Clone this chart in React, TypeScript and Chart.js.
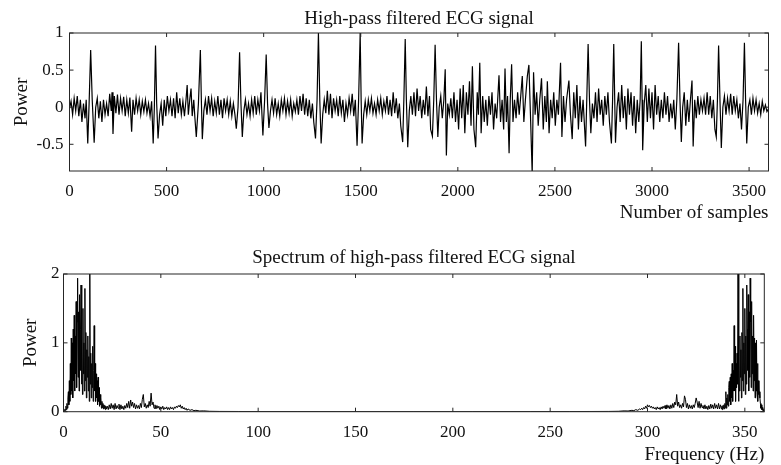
import React, { useEffect, useRef } from "react";
import { Chart, registerables } from "chart.js";

Chart.register(...registerables);

const FONT = "'Liberation Serif', 'Times New Roman', serif";
const TEXT = "#111";

// ---------- Top panel: high-pass filtered ECG ----------
const ecgTitle = "High-pass filtered ECG signal";
const ecgXLabel = "Number of samples";
const ecgYLabel = "Power";
const ecgXTicks = [0, 500, 1000, 1500, 2000, 2500, 3000, 3500];
const ecgYTicks = [-0.5, 0, 0.5, 1];

const ecgSamples = [
  0, 8, 16, 24, 32, 40, 48, 56, 64, 72,
  80, 86, 94, 101, 109, 117, 127, 135, 143, 151,
  159, 167, 175, 183, 191, 199, 207, 215, 219, 224,
  231, 239, 247, 255, 263, 271, 279, 287, 295, 303,
  311, 320, 327, 335, 343, 351, 359, 367, 375, 383,
  391, 399, 407, 415, 423, 431, 437, 443, 449, 456,
  464, 472, 480, 488, 496, 504, 512, 520, 528, 536,
  544, 552, 560, 568, 576, 584, 592, 600, 606, 612,
  620, 626, 632, 640, 646, 653, 664, 674, 679, 684,
  692, 700, 708, 716, 724, 732, 740, 748, 756, 764,
  772, 780, 788, 796, 804, 812, 820, 828, 836, 844,
  852, 859, 868, 876, 883, 890, 898, 906, 914, 922,
  930, 938, 946, 954, 962, 970, 978, 986, 996, 1005,
  1013, 1020, 1027, 1035, 1043, 1051, 1059, 1067, 1075, 1083,
  1091, 1099, 1107, 1115, 1123, 1131, 1139, 1147, 1155, 1163,
  1171, 1179, 1187, 1195, 1203, 1211, 1219, 1227, 1235, 1243,
  1251, 1258, 1267, 1275, 1282, 1289, 1296, 1304, 1312, 1320,
  1328, 1336, 1344, 1352, 1360, 1368, 1376, 1384, 1392, 1400,
  1408, 1416, 1424, 1432, 1440, 1448, 1456, 1464, 1472, 1481,
  1489, 1497, 1502, 1507, 1515, 1523, 1531, 1539, 1547, 1555,
  1563, 1571, 1579, 1587, 1595, 1603, 1611, 1619, 1627, 1635,
  1643, 1651, 1659, 1667, 1675, 1683, 1691, 1699, 1706, 1716,
  1722, 1729, 1735, 1742, 1750, 1758, 1766, 1774, 1782, 1790,
  1798, 1806, 1814, 1822, 1830, 1838, 1846, 1854, 1860, 1869,
  1876, 1883, 1890, 1897, 1904, 1912, 1920, 1928, 1935, 1941,
  1948, 1956, 1964, 1972, 1980, 1988, 1996, 2004, 2012, 2020,
  2028, 2036, 2044, 2052, 2060, 2068, 2075, 2083, 2092, 2100,
  2106, 2113, 2120, 2128, 2136, 2144, 2152, 2160, 2168, 2176,
  2184, 2192, 2200, 2212, 2220, 2228, 2236, 2243, 2250, 2256,
  2264, 2270, 2277, 2284, 2292, 2300, 2308, 2316, 2324, 2332,
  2340, 2348, 2358, 2366, 2374, 2383, 2390, 2398, 2406, 2414,
  2422, 2431, 2440, 2448, 2456, 2461, 2470, 2478, 2486, 2494,
  2502, 2510, 2518, 2529, 2536, 2544, 2552, 2560, 2572, 2580,
  2589, 2597, 2605, 2613, 2621, 2629, 2637, 2645, 2658, 2664,
  2671, 2678, 2685, 2693, 2701, 2709, 2717, 2725, 2733, 2741,
  2749, 2757, 2765, 2773, 2781, 2791, 2797, 2803, 2808, 2812,
  2820, 2828, 2836, 2844, 2852, 2860, 2868, 2876, 2884, 2892,
  2900, 2908, 2916, 2924, 2932, 2939, 2945, 2949, 2952, 2960,
  2968, 2976, 2984, 2992, 3000, 3008, 3016, 3024, 3032, 3040,
  3048, 3056, 3064, 3072, 3080, 3088, 3096, 3104, 3112, 3120,
  3128, 3137, 3144, 3151, 3158, 3166, 3174, 3182, 3190, 3198,
  3206, 3212, 3220, 3228, 3236, 3244, 3252, 3260, 3268, 3276,
  3284, 3292, 3300, 3308, 3316, 3324, 3331, 3337, 3343, 3350,
  3357, 3365, 3373, 3381, 3389, 3397, 3405, 3413, 3421, 3429,
  3437, 3445, 3453, 3461, 3469, 3476, 3482, 3488, 3496, 3504,
  3512, 3520, 3528, 3536, 3544, 3552, 3560, 3568, 3576, 3584,
  3592, 3600,
];

const ecgPower = [
  -0.02, 0.08, -0.1, 0.12, -0.05, 0.15, -0.12, 0.1, -0.2, 0.05,
  -0.15, 0.1, -0.49, 0.05, 0.77, 0.1, -0.48, 0, 0.12, -0.15,
  0.08, -0.2, 0.1, -0.1, 0.05, -0.12, 0.18, -0.05, 0.2, -0.36,
  0.15, -0.08, 0.17, -0.1, 0.12, -0.05, 0.14, -0.12, 0.1, -0.08,
  0.13, -0.33, 0.1, -0.1, 0.12, -0.05, 0.1, -0.1, 0.08, -0.06,
  0.1, -0.08, 0.05, -0.12, 0.08, -0.49, 0, 0.83, 0.05, -0.42,
  -0.1, 0.05, -0.25, 0.1, -0.12, 0.15, -0.05, 0.1, -0.12, 0.12,
  -0.15, 0.2, -0.08, 0.12, -0.1, 0.08, -0.12, 0.1, 0.3, -0.1,
  0.12, 0.25, -0.12, 0.1, -0.15, -0.4, 0.05, 0.77, 0.1, -0.43,
  -0.05, 0.1, -0.1, 0.15, -0.05, 0.12, -0.12, 0.08, -0.08, 0.15,
  -0.1, 0.1, -0.15, 0.12, -0.05, 0.1, -0.1, 0.08, -0.12, 0.05,
  -0.1, -0.29, 0, 0.74, 0.05, -0.4, -0.05, 0.1, -0.1, 0.05,
  -0.12, 0.1, -0.08, 0.15, -0.1, 0.1, -0.05, 0.2, -0.38, 0.1,
  0.71, 0.05, -0.28, -0.05, 0.1, -0.08, 0.12, -0.1, 0.05, -0.12,
  0.1, -0.05, 0.12, -0.1, 0.08, -0.08, 0.1, -0.12, 0.05, -0.06,
  0.1, -0.1, 0.15, -0.05, 0.18, -0.1, 0.12, -0.12, 0.1, -0.15,
  0.05, -0.2, -0.42, 0.1, 1, 0.1, -0.49, -0.1, 0.1, -0.08,
  0.22, -0.1, 0.18, -0.15, 0.12, -0.05, 0.1, -0.12, 0.15, -0.08,
  0.1, -0.2, 0.05, -0.1, 0.12, -0.05, 0.18, -0.12, 0.1, -0.52,
  0.1, 1, 0.1, -0.49, -0.1, 0.08, -0.1, 0.1, -0.05, 0.12,
  -0.08, 0.05, -0.1, 0.1, -0.05, 0.12, -0.1, 0.08, -0.05, 0.15,
  -0.1, 0.1, -0.12, 0.2, -0.08, 0.12, -0.15, 0.05, -0.25, -0.47,
  0.1, 0.92, 0.1, -0.54, -0.05, 0.15, -0.1, 0.2, -0.12, 0.25,
  -0.05, 0.15, -0.15, 0.1, -0.1, 0.28, -0.12, 0.15, -0.3, -0.39,
  0.1, 0.84, 0.1, -0.4, 0, 0.15, -0.15, 0.1, 0.51, -0.65,
  0.05, -0.1, 0.12, -0.15, 0.2, -0.2, 0.1, -0.3, 0.25, -0.15,
  0.3, -0.35, 0.2, -0.1, 0.35, -0.25, 0.55, -0.3, -0.54, 0.2,
  -0.1, 0.6, -0.35, 0.15, -0.2, 0.1, -0.25, 0.15, -0.1, 0.2,
  -0.3, 0.05, -0.15, 0.43, -0.2, 0.1, -0.3, 0.52, -0.2, 0.15,
  -0.62, 0.1, 0.58, -0.2, 0.1, -0.15, 0.2, -0.1, 0.15, 0.42,
  -0.2, 0.1, 0.42, 0.57, -0.1, -0.9, 0.47, -0.1, 0.2, -0.25,
  0.1, 0.39, -0.3, 0.15, -0.2, 0.35, -0.35, 0.1, -0.15, 0.2,
  -0.25, 0.1, -0.1, 0.6, -0.4, 0.15, -0.2, 0.1, 0.36, -0.1,
  -0.43, 0.2, -0.15, 0.3, -0.3, 0.15, -0.2, 0.1, -0.53, 0.1,
  0.85, 0.1, -0.35, 0.05, -0.15, 0.2, -0.2, 0.25, -0.1, 0.1,
  -0.25, 0.15, -0.1, 0.2, -0.2, -0.49, 0.1, 0.85, 0.1, -0.48,
  0, 0.2, -0.2, 0.3, -0.15, 0.15, -0.3, 0.25, -0.1, 0.2,
  -0.25, 0.15, -0.35, 0.1, -0.2, 0.1, 0.89, 0.1, -0.58, 0.05,
  0.3, -0.2, 0.25, -0.15, 0.2, -0.3, 0.3, -0.1, 0.15, -0.2,
  0.1, -0.15, 0.2, -0.1, 0.15, -0.2, 0.05, -0.15, 0.1, -0.3,
  0.1, 0.87, 0.1, -0.47, 0, 0.2, -0.25, 0.1, -0.2, 0.1,
  0.36, -0.53, 0.1, -0.15, 0.15, -0.1, 0.1, -0.05, 0.12, -0.1,
  0.2, -0.1, 0.15, -0.15, 0.1, -0.3, -0.4, 0.1, 0.83, 0.1,
  -0.55, 0, 0.15, -0.1, 0.12, -0.05, 0.18, -0.1, 0.15, -0.05,
  0.1, -0.15, 0.05, -0.3, 0.1, 0.87, 0.1, -0.49, 0, 0.1,
  -0.1, 0.12, -0.05, 0.1, -0.08, 0.05, -0.1, 0.08, -0.05, 0.03,
  -0.06, -0.02,
];

// ---------- Bottom panel: spectrum ----------
const specTitle = "Spectrum of high-pass filtered ECG signal";
const specXLabel = "Frequency (Hz)";
const specYLabel = "Power";
const specXTicks = [0, 50, 100, 150, 200, 250, 300, 350];
const specYTicks = [0, 1, 2];

const specFreq = [
  0, 0.25, 0.5, 0.75, 1, 1.25, 1.5, 1.75, 2, 2.25,
  2.5, 2.75, 3, 3.25, 3.5, 3.75, 4, 4.25, 4.5, 4.75,
  5, 5.25, 5.5, 5.75, 6, 6.25, 6.5, 6.75, 7, 7.25,
  7.5, 7.75, 8, 8.25, 8.5, 8.75, 9, 9.25, 9.5, 9.75,
  10, 10.25, 10.5, 10.75, 11, 11.25, 11.5, 11.75, 12, 12.25,
  12.5, 12.75, 13, 13.25, 13.5, 13.75, 14, 14.25, 14.5, 14.75,
  15, 15.25, 15.5, 15.75, 16, 16.25, 16.5, 16.75, 17, 17.25,
  17.5, 17.75, 18, 18.25, 18.5, 18.75, 19, 19.25, 19.5, 19.75,
  20, 20.25, 20.5, 20.75, 21, 21.25, 21.5, 21.75, 22,
  22.5, 23, 23.5, 24, 24.5, 25, 25.5, 26, 26.5, 27,
  27.5, 28, 28.5, 29, 29.5, 30, 30.5, 31, 31.5, 32,
  32.5, 33, 33.5, 34, 34.5, 35, 35.5, 36, 36.5, 37,
  37.5, 38, 38.5, 39, 39.5, 40, 40.5, 41, 41.5, 42,
  42.5, 43, 43.5, 44, 44.5, 45, 45.5, 46, 46.5, 47,
  47.5, 48, 48.5, 49, 49.5, 50, 50.5, 51, 51.5, 52,
  52.5, 53, 53.5, 54, 54.5, 55, 55.5, 56, 56.5, 57,
  57.5, 58, 58.5, 59, 59.5, 60, 60.5, 61, 61.5, 62,
  62.5, 63, 63.5, 64, 65, 66, 67, 68, 70, 72,
  75, 80, 90, 100, 120, 150, 180, 210, 240, 260,
  270, 280, 285, 288, 290, 292, 293, 294, 295, 296,
  296.5, 297, 297.5, 298, 298.5, 299, 299.5, 300, 300.5, 301,
  301.5, 302, 302.5, 303, 303.5, 304, 304.5, 305, 305.5, 306,
  306.5, 307, 307.5, 308, 308.5, 309, 309.5, 310, 310.5, 311,
  311.5, 312, 312.5, 313, 313.5, 314, 314.5, 315, 315.5, 316,
  316.5, 317, 317.5, 318, 318.5, 319, 319.5, 320, 320.5, 321,
  321.5, 322, 322.5, 323, 323.5, 324, 324.5, 325, 325.5, 326,
  326.5, 327, 327.5, 328, 328.5, 329, 329.5, 330, 330.5, 331,
  331.5, 332, 332.5, 333, 333.5, 334, 334.5, 335, 335.5, 336,
  336.5, 337, 337.5, 338, 338.25, 338.5, 338.75, 339, 339.25, 339.5,
  339.75, 340, 340.25, 340.5, 340.75, 341, 341.25, 341.5, 341.75, 342,
  342.25, 342.5, 342.75, 343, 343.25, 343.5, 343.75, 344, 344.25, 344.5,
  344.75, 345, 345.25, 345.5, 345.75, 346, 346.25, 346.5, 346.75, 347,
  347.25, 347.5, 347.75, 348, 348.25, 348.5, 348.75, 349, 349.25, 349.5,
  349.75, 350, 350.25, 350.5, 350.75, 351, 351.25, 351.5, 351.75, 352,
  352.25, 352.5, 352.75, 353, 353.25, 353.5, 353.75, 354, 354.25, 354.5,
  354.75, 355, 355.25, 355.5, 355.75, 356, 356.25, 356.5, 356.75, 357,
  357.25, 357.5, 357.75, 358, 358.25, 358.5, 358.75, 359, 359.25, 359.5,
  359.75, 360,
];

const specPower = [
  0.01, 0.02, 0.01, 0.04, 0.02, 0.08, 0.03, 0.12, 0.05, 0.2,
  0.29, 0.1, 0.45, 0.15, 0.7, 0.25, 1.07, 0.3, 1.0, 0.2,
  1.2, 0.45, 1.4, 0.3, 1.1, 0.55, 1.6, 0.35, 1.3, 1.94,
  0.5, 1.45, 0.3, 1.7, 0.6, 1.2, 1.84, 0.4, 1.1, 0.25,
  1.5, 0.55, 1.0, 0.3, 1.79, 0.45, 1.15, 0.2, 0.9, 0.5,
  1.1, 0.3, 0.8, 0.15, 2.3, 0.4, 0.85, 0.2, 0.7, 0.35,
  0.95, 0.15, 0.6, 1.25, 0.3, 0.7, 0.15, 0.55, 0.2, 0.45,
  0.1, 0.5, 0.15, 0.35, 0.08, 0.25, 0.1, 0.2, 0.05, 0.15,
  0.06, 0.12, 0.04, 0.1, 0.05, 0.09, 0.03, 0.08, 0.04,
  0.08, 0.03, 0.1, 0.04, 0.12, 0.05, 0.1, 0.03, 0.12, 0.04,
  0.09, 0.05, 0.11, 0.03, 0.1, 0.04, 0.08, 0.03, 0.09, 0.05,
  0.12, 0.06, 0.15, 0.05, 0.17, 0.08, 0.14, 0.06, 0.12, 0.04,
  0.1, 0.05, 0.09, 0.04, 0.12, 0.06, 0.18, 0.25, 0.07, 0.12,
  0.05, 0.1, 0.06, 0.15, 0.08, 0.27, 0.1, 0.14, 0.05, 0.1,
  0.04, 0.09, 0.05, 0.08, 0.03, 0.07, 0.04, 0.08, 0.03, 0.06,
  0.04, 0.07, 0.03, 0.06, 0.03, 0.07, 0.04, 0.06, 0.03, 0.07,
  0.05, 0.08, 0.06, 0.09, 0.07, 0.1, 0.05, 0.08, 0.04, 0.06,
  0.03, 0.05, 0.02, 0.04, 0.02, 0.03, 0.015, 0.02, 0.01, 0.012,
  0.006, 0.004, 0.003, 0.002, 0.002, 0.001, 0.001, 0.001, 0.002, 0.002,
  0.003, 0.004, 0.006, 0.012, 0.01, 0.02, 0.015, 0.03, 0.02, 0.04,
  0.03, 0.05, 0.03, 0.06, 0.04, 0.08, 0.05, 0.1, 0.07, 0.09,
  0.06, 0.08, 0.05, 0.07, 0.04, 0.06, 0.03, 0.07, 0.04, 0.06,
  0.03, 0.07, 0.04, 0.08, 0.05, 0.09, 0.04, 0.1, 0.05, 0.09,
  0.04, 0.1, 0.05, 0.12, 0.06, 0.14, 0.1, 0.25, 0.08, 0.14,
  0.06, 0.1, 0.05, 0.12, 0.07, 0.23, 0.18, 0.06, 0.12, 0.04,
  0.1, 0.05, 0.09, 0.04, 0.1, 0.06, 0.12, 0.2, 0.14, 0.06,
  0.15, 0.05, 0.12, 0.06, 0.09, 0.04, 0.1, 0.04, 0.08, 0.03,
  0.09, 0.04, 0.11, 0.05, 0.1, 0.04, 0.12, 0.05, 0.1, 0.04,
  0.12, 0.04, 0.1, 0.04, 0.08, 0.03, 0.09, 0.05, 0.1, 0.04,
  0.12, 0.06, 0.29, 0.05, 0.2, 0.1, 0.25, 0.08, 0.35, 0.44,
  0.15, 0.5, 0.1, 0.55, 0.2, 0.7, 0.15, 0.6, 0.3, 1.25,
  0.3, 0.95, 0.15, 0.7, 0.35, 0.85, 0.4, 2.3, 0.15, 0.8,
  0.3, 1.1, 0.5, 0.9, 0.2, 1.15, 0.45, 1.79, 0.3, 1.0,
  0.55, 1.5, 0.25, 1.1, 0.4, 1.84, 1.2, 0.6, 1.7, 0.3,
  1.45, 0.5, 1.94, 1.3, 0.35, 1.6, 0.55, 1.1, 0.3, 1.4,
  0.45, 1.07, 0.2, 1.0, 0.3, 1.04, 0.25, 0.7, 0.15, 0.45,
  0.25, 0.29, 0.2, 0.12, 0.05, 0.1, 0.03, 0.06, 0.02, 0.03,
  0.01, 0.01,
];

// Draws the MATLAB-style box and inward tick marks on all four sides.
const boxPlugin = {
  id: "matlabBox",
  afterDatasetsDraw(chart: any) {
    const { ctx, chartArea: a, scales } = chart;
    const tl = 4;
    ctx.save();
    ctx.strokeStyle = "#262626";
    ctx.lineWidth = 1;
    ctx.strokeRect(a.left, a.top, a.right - a.left, a.bottom - a.top);
    ctx.beginPath();
    scales.x.ticks.forEach((t: any) => {
      const p = scales.x.getPixelForValue(t.value);
      ctx.moveTo(p, a.bottom);
      ctx.lineTo(p, a.bottom - tl);
      ctx.moveTo(p, a.top);
      ctx.lineTo(p, a.top + tl);
    });
    scales.y.ticks.forEach((t: any) => {
      const p = scales.y.getPixelForValue(t.value);
      ctx.moveTo(a.left, p);
      ctx.lineTo(a.left + tl, p);
      ctx.moveTo(a.right, p);
      ctx.lineTo(a.right - tl, p);
    });
    ctx.stroke();
    ctx.restore();
  },
};

type PanelCfg = {
  xs: number[];
  ys: number[];
  lineWidth: number;
  title: string;
  xLabel: string;
  yLabel: string;
  xTicks: number[];
  yTicks: number[];
  xMin: number;
  xMax: number;
  yMin: number;
  yMax: number;
  padRight: number;
  titlePad: { top: number; bottom: number };
  xAxisHeight: number;
  xTickPad: number;
  xTitlePadBottom: number;
  yAxisWidth: number;
  yTickPad: number;
  yTitlePadTop: number;
};

function makeConfig(p: PanelCfg): any {
  const tickFont = { family: FONT, size: 17, weight: "normal" as const };
  const labelFont = { family: FONT, size: 19, weight: "normal" as const };
  const points = p.xs.map((x, i) => ({ x, y: p.ys[i] }));
  return {
    type: "line",
    data: {
      datasets: [
        {
          data: points,
          borderColor: "#000",
          borderWidth: p.lineWidth,
          pointRadius: 0,
          tension: 0,
          fill: false,
          clip: 0,
        },
      ],
    },
    options: {
      animation: false,
      responsive: false,
      events: [],
      layout: { padding: { left: 0, right: p.padRight, top: 0, bottom: 0 } },
      plugins: {
        legend: { display: false },
        tooltip: { enabled: false },
        title: {
          display: true,
          text: p.title,
          fullSize: false,
          font: labelFont,
          color: TEXT,
          padding: p.titlePad,
        },
      },
      scales: {
        x: {
          type: "linear",
          min: p.xMin,
          max: p.xMax,
          afterBuildTicks: (s: any) => {
            s.ticks = p.xTicks.map((v) => ({ value: v }));
          },
          afterFit: (s: any) => {
            s.height = p.xAxisHeight;
          },
          grid: { display: false, drawTicks: false },
          border: { display: false },
          ticks: {
            font: tickFont,
            color: TEXT,
            padding: p.xTickPad,
            maxRotation: 0,
            autoSkip: false,
            callback: (v: any) => String(v),
          },
          title: {
            display: true,
            text: p.xLabel,
            align: "end",
            font: labelFont,
            color: TEXT,
            padding: { top: 0, bottom: p.xTitlePadBottom },
          },
        },
        y: {
          type: "linear",
          min: p.yMin,
          max: p.yMax,
          afterBuildTicks: (s: any) => {
            s.ticks = p.yTicks.map((v) => ({ value: v }));
          },
          afterFit: (s: any) => {
            s.width = p.yAxisWidth;
          },
          grid: { display: false, drawTicks: false },
          border: { display: false },
          ticks: {
            font: tickFont,
            color: TEXT,
            padding: p.yTickPad,
            autoSkip: false,
            callback: (v: any) => String(v),
          },
          title: {
            display: true,
            text: p.yLabel,
            font: labelFont,
            color: TEXT,
            padding: { top: p.yTitlePadTop, bottom: 0 },
          },
        },
      },
    },
    plugins: [boxPlugin],
  };
}

function Panel({ cfg, width, height, top }: { cfg: PanelCfg; width: number; height: number; top: number }) {
  const ref = useRef<HTMLCanvasElement | null>(null);
  useEffect(() => {
    if (!ref.current) return;
    const chart = new Chart(ref.current, makeConfig(cfg));
    return () => chart.destroy();
  }, []);
  return (
    <canvas
      ref={ref}
      width={width}
      height={height}
      style={{ position: "absolute", left: 0, top, width, height, display: "block" }}
    />
  );
}

const ecgPanel: PanelCfg = {
  xs: ecgSamples,
  ys: ecgPower,
  lineWidth: 1.2,
  title: ecgTitle,
  xLabel: ecgXLabel,
  yLabel: ecgYLabel,
  xTicks: ecgXTicks,
  yTicks: ecgYTicks,
  xMin: 0,
  xMax: 3600,
  yMin: -0.86,
  yMax: 1,
  padRight: 12.5,
  titlePad: { top: 7.3, bottom: 2.9 },
  xAxisHeight: 59,
  xTickPad: 10.1,
  xTitlePadBottom: 5.6,
  yAxisWidth: 69.5,
  yTickPad: 6,
  yTitlePadTop: 10.3,
};

const specPanel: PanelCfg = {
  xs: specFreq,
  ys: specPower,
  lineWidth: 1,
  title: specTitle,
  xLabel: specXLabel,
  yLabel: specYLabel,
  xTicks: specXTicks,
  yTicks: specYTicks,
  xMin: 0,
  xMax: 360,
  yMin: 0,
  yMax: 2,
  padRight: 16.7,
  titlePad: { top: 16.4, bottom: 4.8 },
  xAxisHeight: 53.3,
  xTickPad: 11.1,
  xTitlePadBottom: -1,
  yAxisWidth: 63.5,
  yTickPad: 4,
  yTitlePadTop: 19.4,
};

export default function App() {
  return (
    <div style={{ position: "absolute", left: 0, top: 0, width: 781, height: 465, background: "#fff" }}>
      <Panel cfg={ecgPanel} width={781} height={230} top={0} />
      <Panel cfg={specPanel} width={781} height={235} top={230} />
    </div>
  );
}
